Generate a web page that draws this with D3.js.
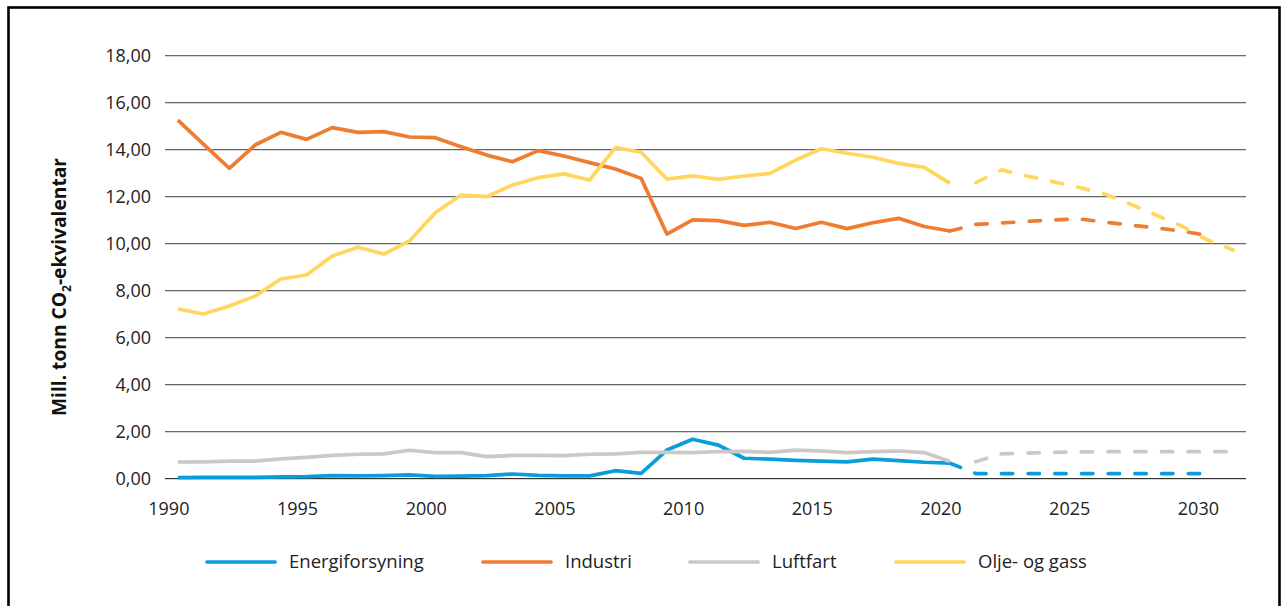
<!DOCTYPE html>
<html>
<head>
<meta charset="utf-8">
<script src="https://cdn.jsdelivr.net/npm/d3@7"></script>
<style>
  html, body { margin: 0; padding: 0; background: #fff; }
  svg { display: block; }
</style>
</head>
<body>
<svg id="chart" width="1282" height="606"></svg>
<script>
// ---- Data ----
const histYears = d3.range(1990, 2021);          // 1990–2020
const energiHist = [0.02,0.03,0.03,0.03,0.05,0.06,0.10,0.09,0.10,0.13,0.07,0.08,0.10,0.17,0.11,0.09,0.09,0.31,0.20,1.19,1.65,1.40,0.84,0.80,0.75,0.72,0.69,0.80,0.74,0.67,0.63];
const industriHist = [15.23,14.20,13.18,14.17,14.71,14.41,14.91,14.71,14.74,14.51,14.48,14.10,13.74,13.46,13.93,13.70,13.42,13.15,12.75,10.38,10.98,10.95,10.75,10.88,10.62,10.88,10.61,10.86,11.05,10.70,10.51];
const luftfartHist = [0.68,0.69,0.72,0.72,0.81,0.88,0.96,1.01,1.03,1.18,1.08,1.08,0.91,0.96,0.96,0.95,1.01,1.03,1.09,1.09,1.08,1.12,1.13,1.09,1.19,1.15,1.08,1.12,1.15,1.08,0.70];
const oljeHist = [7.19,6.98,7.32,7.74,8.47,8.64,9.45,9.82,9.53,10.09,11.29,12.04,11.97,12.47,12.78,12.94,12.68,14.06,13.86,12.72,12.86,12.71,12.85,12.96,13.53,14.01,13.82,13.65,13.39,13.22,12.54];

const projYearsA = d3.range(2020, 2031);         // 2020–2030
const projYearsB = d3.range(2021, 2032);         // 2021–2031
const energiProj = [0.63,0.19,0.19,0.19,0.19,0.19,0.19,0.19,0.19,0.19,0.19];
const industriProj = [10.51,10.79,10.85,10.92,10.98,11.03,10.89,10.77,10.64,10.51,10.32];
const luftfartProj = [0.69,1.03,1.06,1.09,1.11,1.12,1.12,1.12,1.12,1.12,1.12];
const oljeProj = [12.57,13.11,12.85,12.61,12.37,12.09,11.66,11.19,10.72,10.13,9.70];

const yTicks = [0,2,4,6,8,10,12,14,16,18];
const xTicks = [1990,1995,2000,2005,2010,2015,2020,2025,2030];
const seriesNames = ["Energiforsyning","Industri","Luftfart","Olje- og gass"];
const seriesColors = ["#0a9ddb","#ee7d31","#cdc8c5","#ffd65e"];

const series = [
  {hist: energiHist, histYears, proj: energiProj, projYears: projYearsA},
  {hist: industriHist, histYears, proj: industriProj, projYears: projYearsA},
  {hist: luftfartHist, histYears, proj: luftfartProj, projYears: projYearsB},
  {hist: oljeHist, histYears, proj: oljeProj, projYears: projYearsB}
];

// ---- Layout ----
const svg = d3.select("#chart");
const font = "'Open Sans', 'Noto Sans', sans-serif";

svg.append("rect")
  .attr("x", 8.5).attr("y", 7.5).attr("width", 1271).attr("height", 620)
  .attr("fill", "none").attr("stroke", "#000").attr("stroke-width", 2.6);

const x = d3.scaleLinear().domain([1989.5, 2031.5]).range([165, 1246]);
const y = d3.scaleLinear().domain([0, 18]).range([478, 55]);

const locale = d3.formatLocale({decimal: ",", thousands: " ", grouping: [3], currency: ["", ""]});
const fmt = locale.format(".2f");

// gridlines
const grid = svg.append("g");
yTicks.forEach(t => {
  grid.append("line")
    .attr("x1", 165).attr("x2", 1246)
    .attr("y1", Math.round(y(t)) + 1.5).attr("y2", Math.round(y(t)) + 1.5)
    .attr("stroke", "#d6d6d6").attr("stroke-width", 1);
  grid.append("line")
    .attr("x1", 165).attr("x2", 1246)
    .attr("y1", Math.round(y(t)) + 0.5).attr("y2", Math.round(y(t)) + 0.5)
    .attr("stroke", t === 0 ? "#333" : "#666").attr("stroke-width", 1.1);
});

// y axis labels
const yAxis = d3.axisLeft(y).tickValues(yTicks).tickFormat(fmt).tickSize(0).tickPadding(0);
const yg = svg.append("g").attr("transform", "translate(151,0)").call(yAxis);
yg.select(".domain").remove();
yg.selectAll("text")
  .attr("font-family", font).attr("font-size", 18).attr("fill", "#222").attr("dy", "0.34em");

// x axis labels
const xg = svg.append("g");
xg.selectAll("text").data(xTicks).join("text")
  .attr("x", d => x(d) - 9).attr("y", 509)
  .attr("text-anchor", "middle").attr("dy", "0.35em")
  .attr("font-family", font).attr("font-size", 18).attr("fill", "#222")
  .text(d => d);

// y title
const yt = svg.append("text")
  .attr("transform", "translate(66,287) rotate(-90)")
  .attr("text-anchor", "middle")
  .attr("font-family", font).attr("font-size", 19.2).attr("font-weight", 700).attr("fill", "#111");
yt.append("tspan").text("Mill. tonn CO");
yt.append("tspan").attr("font-size", 12).attr("dy", 5).text("2");
yt.append("tspan").attr("dy", -5).text("-ekvivalentar");

// lines
const line = d3.line().x(d => x(d[0])).y(d => y(d[1]));
const lines = svg.append("g").attr("fill", "none")
  .attr("stroke-width", 3.7).attr("stroke-linejoin", "round");

series.forEach((s, i) => {
  lines.append("path")
    .attr("d", line(s.histYears.map((yr, j) => [yr, s.hist[j]])))
    .attr("stroke", seriesColors[i]).attr("stroke-linecap", "butt");
  lines.append("path")
    .attr("d", line(s.projYears.map((yr, j) => [yr, s.proj[j]])))
    .attr("stroke", seriesColors[i])
    .attr("stroke-linecap", "round")
    .attr("stroke-dasharray", "11.3,15.4");
});

// legend
const legendX = [207, 483, 690, 896];
const lg = svg.append("g");
seriesNames.forEach((n, i) => {
  lg.append("line")
    .attr("x1", legendX[i]).attr("x2", legendX[i] + 68)
    .attr("y1", 562).attr("y2", 562)
    .attr("stroke", seriesColors[i]).attr("stroke-width", 3.7).attr("stroke-linecap", "round");
  lg.append("text")
    .attr("x", legendX[i] + 82).attr("y", 562).attr("dy", "0.35em")
    .attr("font-family", font).attr("font-size", 18.5).attr("fill", "#222")
    .text(n);
});
</script>
</body>
</html>
